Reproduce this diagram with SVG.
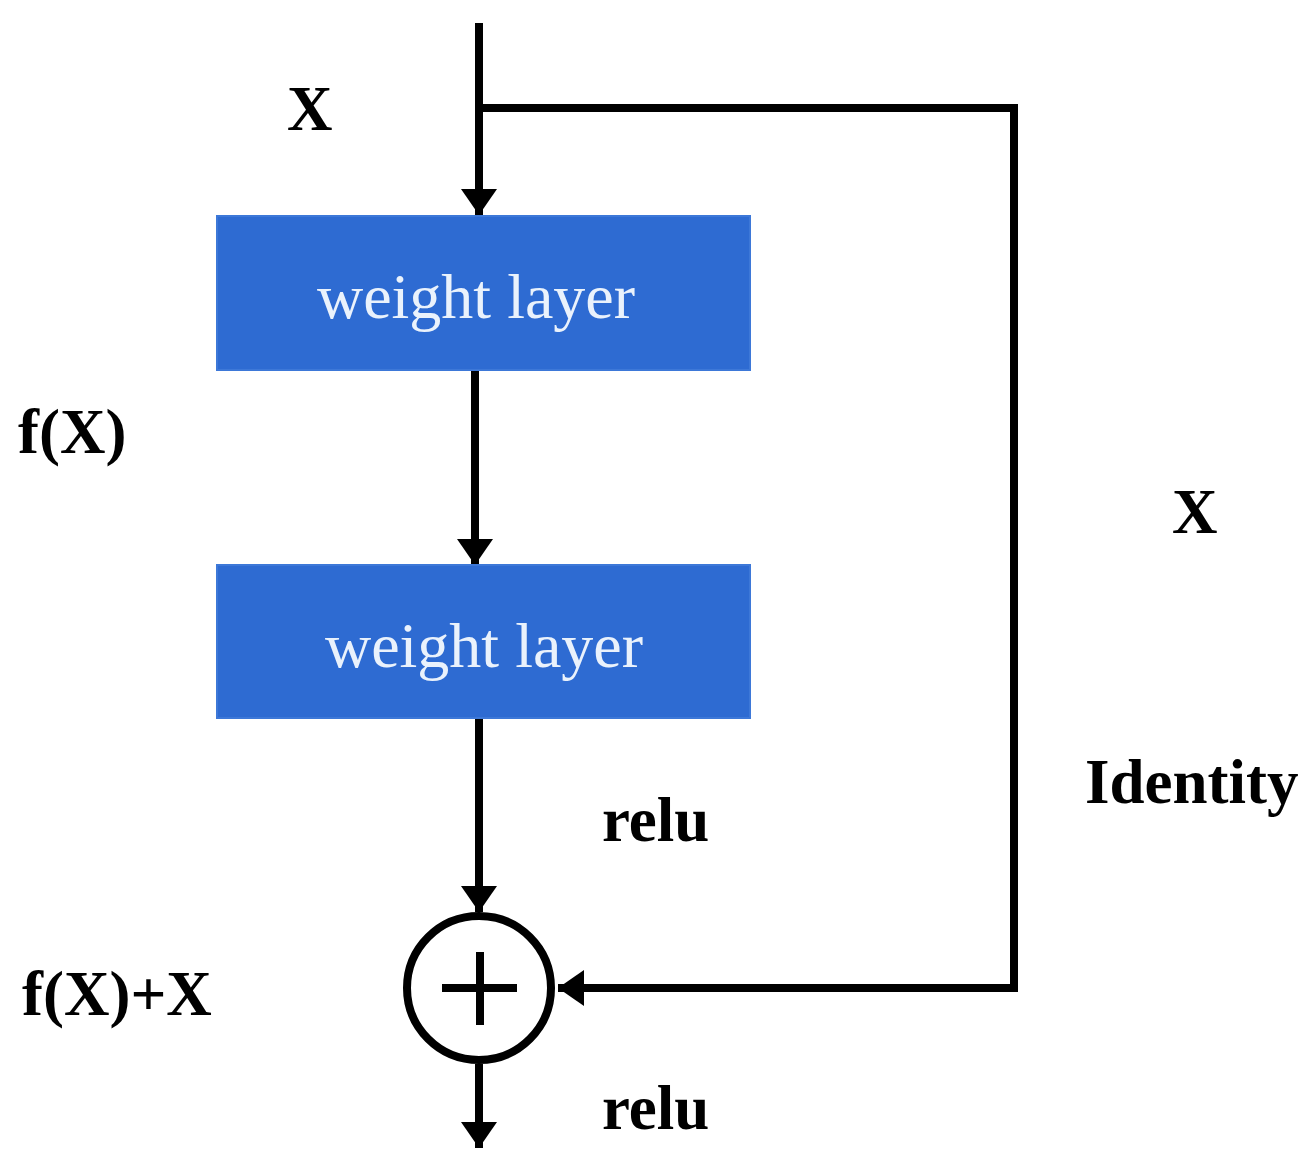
<svg xmlns="http://www.w3.org/2000/svg" width="1313" height="1171" viewBox="0 0 1313 1171">
  <style>
    .box { fill: #2e6bd2; stroke: #3d78d8; stroke-width: 2; }
    .boxtext { font-family: "Liberation Serif", "Times New Roman", serif; font-size: 64px; fill: #eaf2fc; text-anchor: middle; }
    .lbl { font-family: "Liberation Serif", "Times New Roman", serif; font-size: 63px; font-weight: bold; fill: #000; }
    .wire { fill: none; stroke: #000; stroke-width: 8; }
    .sum { fill: #fff; stroke: #000; stroke-width: 8; }
    .plus { stroke: #000; stroke-width: 8; }
  </style>
  <defs>
    <marker id="arr" markerUnits="userSpaceOnUse" markerWidth="26" markerHeight="36" refX="26" refY="18" orient="auto" viewBox="0 0 26 36">
      <path d="M0,0 L26,18 L0,36 Z" fill="#000"/>
    </marker>
  </defs>
  <rect width="1313" height="1171" fill="#fff"/>

  <g id="connectors">
    <line class="wire" x1="479" y1="23" x2="479" y2="215" marker-end="url(#arr)"/>
    <polyline class="wire" points="479,108 1014,108 1014,988 558,988" marker-end="url(#arr)"/>
    <line class="wire" x1="475" y1="370" x2="475" y2="565" marker-end="url(#arr)"/>
    <line class="wire" x1="479" y1="718" x2="479" y2="912" marker-end="url(#arr)"/>
    <line class="wire" x1="479" y1="1064" x2="479" y2="1148" marker-end="url(#arr)"/>
  </g>

  <g id="weight1">
    <rect class="box" x="217" y="216" width="533" height="154"/>
    <text class="boxtext" x="476" y="318">weight layer</text>
  </g>
  <g id="weight2">
    <rect class="box" x="217" y="565" width="533" height="153"/>
    <text class="boxtext" x="484" y="667">weight layer</text>
  </g>
  <g id="sum">
    <circle class="sum" cx="479" cy="988" r="72"/>
    <line class="plus" x1="442" y1="988" x2="517" y2="988"/>
    <line class="plus" x1="480" y1="952" x2="480" y2="1025"/>
  </g>

  <g id="labels">
    <text class="lbl" x="287" y="130">X</text>
    <text class="lbl" x="18" y="453">f(X)</text>
    <text class="lbl" x="1172" y="533">X</text>
    <text class="lbl" x="1085" y="803">Identity</text>
    <text class="lbl" x="602" y="841">relu</text>
    <text class="lbl" x="22" y="1015">f(X)+X</text>
    <text class="lbl" x="602" y="1129">relu</text>
  </g>
</svg>
